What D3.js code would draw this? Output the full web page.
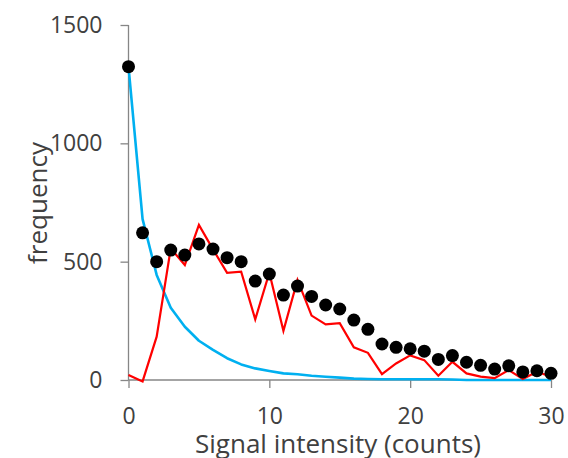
<!DOCTYPE html>
<html>
<head>
<meta charset="utf-8">
<script src="https://cdn.jsdelivr.net/npm/d3@7/dist/d3.min.js"></script>
<style>
  html, body { margin: 0; padding: 0; background: #fff; }
  svg { display: block; }
  text { font-family: "Open Sans", "Liberation Sans", sans-serif; fill: #404040; }
</style>
</head>
<body>
<svg id="chart" width="568" height="458"></svg>
<script>
const intensity = d3.range(0, 31);
const observed = [1324, 622, 500, 549, 528, 575, 553, 517, 500, 418, 448, 359, 397, 353, 317, 300, 253, 214, 152, 138, 132, 122, 87, 103, 75, 62, 46, 60, 34, 39, 28];
const modelRed = [21, -6, 183, 556, 486, 655, 552, 453, 458, 256, 453, 208, 423, 272, 235, 240, 138, 115, 25, 70, 104, 84, 18, 77, 28, 14, 8, 42, 4, 35, 14];
const modelBlue = [1324, 680, 444, 305, 225, 166, 127, 92, 66, 49, 38, 28, 24, 18, 14, 10, 6, 4, 3, 3, 3, 3, 3, 2, 0, 0, 0, 0, 0, 0, 0];
const xTicks = [0, 10, 20, 30];
const yTicks = [0, 500, 1000, 1500];

const svg = d3.select("#chart");
const x = d3.scaleLinear().domain([0, 30]).range([128.5, 551]);
const y = d3.scaleLinear().domain([0, 1500]).range([380, 25]);
const axisColor = "#868686";

const yAxis = svg.append("g").attr("transform", `translate(${x(0)},0)`)
  .call(d3.axisLeft(y).tickValues(yTicks).tickSize(8).tickPadding(18).tickFormat(d3.format("d")));
const xAxis = svg.append("g").attr("transform", `translate(0,${y(0)})`)
  .call(d3.axisBottom(x).tickValues(xTicks).tickSize(8).tickPadding(16).tickFormat(d3.format("d")));
[yAxis, xAxis].forEach(g => {
  g.select(".domain").attr("stroke", axisColor).attr("stroke-width", 1.3);
  g.selectAll(".tick line").attr("stroke", axisColor).attr("stroke-width", 1.3);
  g.selectAll(".tick text").attr("font-size", 23).attr("fill", "#404040")
    .attr("font-family", "'Open Sans', 'Liberation Sans', sans-serif");
});
yAxis.select(".domain").attr("d", `M0,${y(1500)}V${y(0)}`);
xAxis.select(".domain").attr("d", `M${x(0)},0H${x(30)}`);
xAxis.selectAll(".tick text").attr("dy", "0.85em");

const line = d3.line().x((d, i) => x(intensity[i])).y(d => y(d));

svg.append("path").datum(modelBlue).attr("d", line)
  .attr("fill", "none").attr("stroke", "#00B0F0").attr("stroke-width", 2.6).attr("stroke-linejoin", "round");
svg.append("path").datum(modelRed).attr("d", line)
  .attr("fill", "none").attr("stroke", "#FF0000").attr("stroke-width", 2.2).attr("stroke-linejoin", "miter");

svg.append("g").selectAll("circle").data(observed).join("circle")
  .attr("cx", (d, i) => x(intensity[i])).attr("cy", d => y(d)).attr("r", 6.5).attr("fill", "#000");

svg.append("text").attr("x", 338).attr("y", 453).attr("text-anchor", "middle")
  .attr("font-size", 26).text("Signal intensity (counts)");
svg.append("text").attr("transform", "translate(47,203) rotate(-90)").attr("text-anchor", "middle")
  .attr("font-size", 26).text("frequency");
</script>
</body>
</html>
